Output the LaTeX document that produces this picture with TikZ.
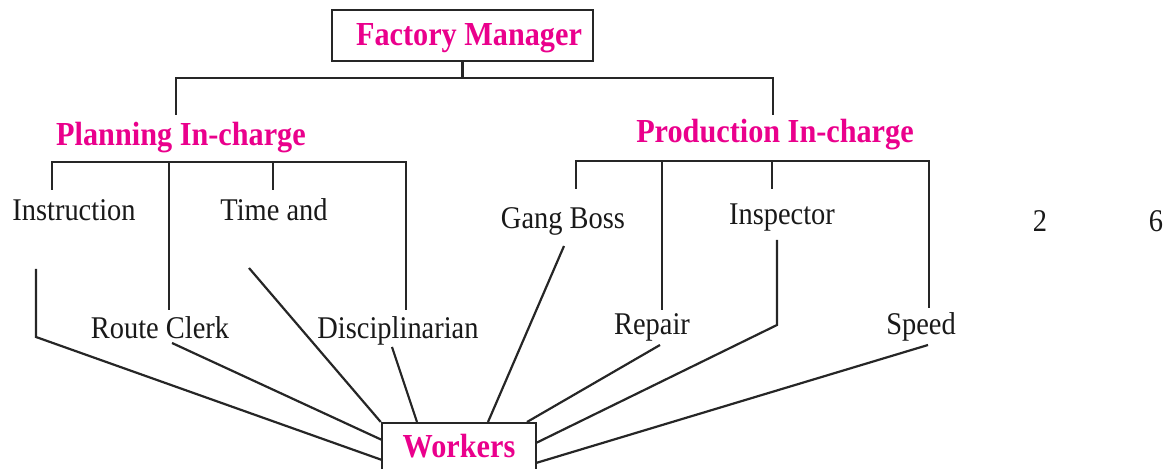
\documentclass[tikz,border=0pt]{standalone}
\usepackage{fontspec}
\setmainfont{Liberation Serif}[FakeStretch=0.9]
\definecolor{headpink}{RGB}{234,0,140}
\tikzset{head/.style={font=\fontsize{16.8}{18}\selectfont\bfseries,text=headpink,inner sep=0pt},
  post/.style={font=\fontsize{15.8}{17}\selectfont,text=black!90,inner sep=0pt},
  frame/.style={draw=black!85,line width=1.25pt,inner sep=0pt},
  link/.style={draw=black!85,line width=1.1pt}}

\begin{document}
\begin{tikzpicture}[x=0.5pt,y=-0.5pt]
  \useasboundingbox (0,0) rectangle (1168,469);
  \clip (0,0) rectangle (1168,469);
  % boxes and headings
  \node[frame,head,anchor=north,minimum width=130.5pt,text height=17.5pt,text depth=8pt] (fm) at (462.5,9) {\hspace{6.5pt}Factory Manager};
  \node[frame,head,anchor=north,minimum width=77pt,text height=17pt,text depth=17pt] (wk) at (459,422) {Workers};
  \node[head,anchor=base] (plan) at (181,146) {Planning In-charge};
  \node[head,anchor=base] (prod) at (775,143) {Production In-charge};
  % functional foremen
  \foreach \n/\x/\y/\t in {ins/74/221/Instruction,ta/274/221/Time and,gb/563/229/Gang Boss,
      insp/782/225/Inspector,rc/160/339/Route Clerk,dis/398/339/Disciplinarian,
      rep/652/335/Repair,spd/921/335/Speed,two/1040/232/2,six/1156/232/6}
    \node[post,anchor=base] (\n) at (\x,\y) {\t};

  % manager to the two in-charges
  \coordinate (bus) at (462.5,78);
  \coordinate (plan-up) at (176,115);
  \coordinate (prod-up) at (773,115);
  \draw[link] (fm.south) -- (bus);
  \draw[link] (plan-up) |- (bus) -| (prod-up);

  % brackets under the in-charges
  \coordinate (pl-bar) at (0,162);
  \coordinate (pr-bar) at (0,161);
  \coordinate (ins-up) at (52,190);
  \coordinate (rc-up) at (169,310);
  \coordinate (ta-up) at (273,190);
  \coordinate (dis-up) at (406,310);
  \coordinate (gb-up) at (576,189);
  \coordinate (rep-up) at (662,310);
  \coordinate (insp-up) at (772,189);
  \coordinate (spd-up) at (929,308);
  \draw[link] (ins-up) |- (dis-up |- pl-bar) -- (dis-up);
  \draw[link] (gb-up) |- (spd-up |- pr-bar) -- (spd-up);
  \foreach \n in {rc,ta}
    \draw[link] (\n-up |- pl-bar) -- (\n-up);
  \foreach \n in {rep,insp}
    \draw[link] (\n-up |- pr-bar) -- (\n-up);

  % everyone down to the workers
  \coordinate (ins-dn) at (36,269);
  \coordinate (ins-kn) at (36,337);
  \coordinate (rc-dn) at (172,343);
  \coordinate (ta-dn) at (249,268);
  \coordinate (dis-dn) at (392,347);
  \coordinate (gb-dn) at (564,246);
  \coordinate (rep-dn) at (660,345);
  \coordinate (insp-dn) at (777,240);
  \coordinate (insp-kn) at (777,325);
  \coordinate (spd-dn) at (928,345);
  \coordinate (wk-l2) at (382,440);
  \coordinate (wk-l3) at (382,460);
  \coordinate (wk-t1) at (417,422);
  \coordinate (wk-t2) at (488,422);
  \coordinate (wk-t3) at (527,422);
  \coordinate (wk-r2) at (536,443);
  \coordinate (wk-r3) at (536,463);
  \draw[link] (ins-dn) -- (ins-kn) -- (wk-l3);
  \draw[link] (insp-dn) -- (insp-kn) -- (wk-r2);
  \foreach \a/\b in {rc-dn/wk-l2,ta-dn/wk.north west,dis-dn/wk-t1,gb-dn/wk-t2,
      rep-dn/wk-t3,spd-dn/wk-r3}
    \draw[link] (\a) -- (\b);
\end{tikzpicture}
\end{document}
